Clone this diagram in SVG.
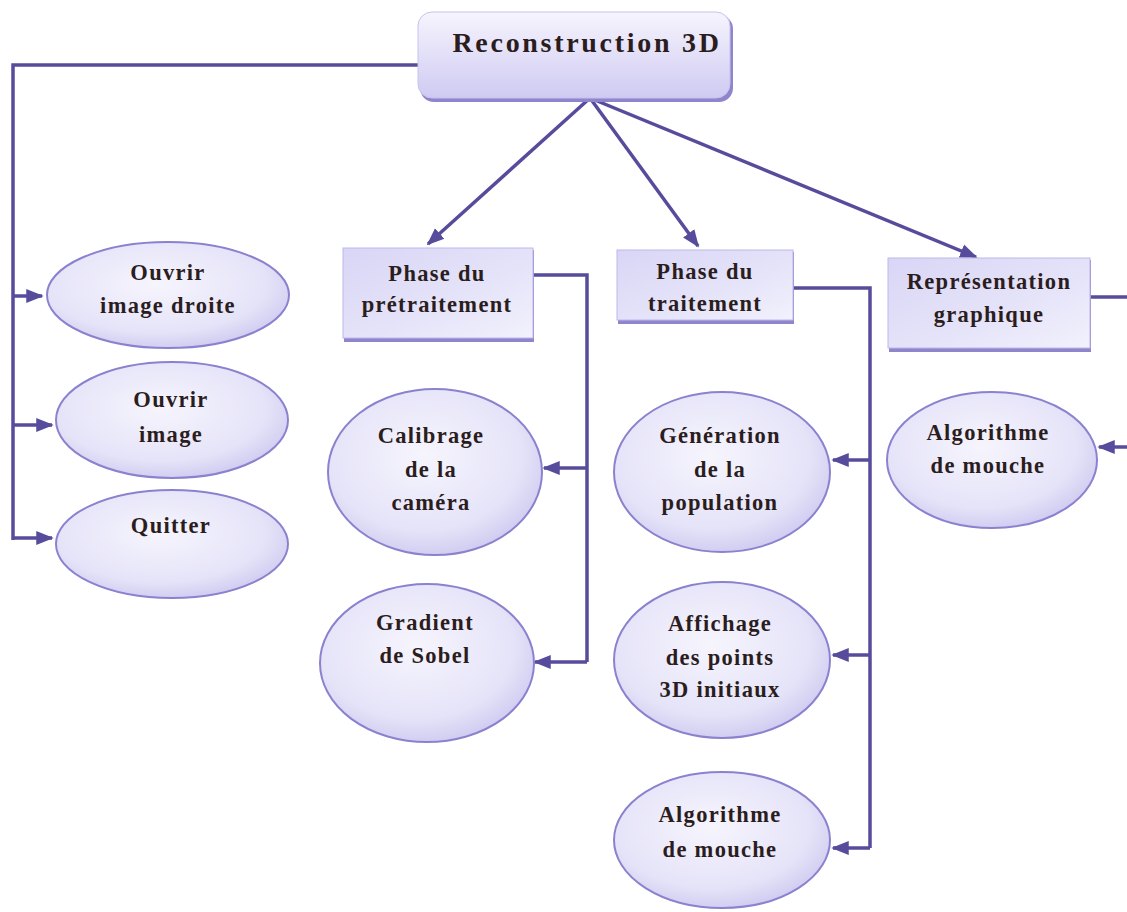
<svg xmlns="http://www.w3.org/2000/svg" width="1127" height="912" viewBox="0 0 1127 912">
<defs>
<linearGradient id="boxg" x1="0" y1="0" x2="0" y2="1">
<stop offset="0" stop-color="#f6f5fd"/>
<stop offset="1" stop-color="#cfcaf2"/>
</linearGradient>
<linearGradient id="rectg" x1="0" y1="0" x2="1" y2="1">
<stop offset="0" stop-color="#d9d5f6"/>
<stop offset="0.6" stop-color="#e6e4f9"/>
<stop offset="1" stop-color="#f2f1fc"/>
</linearGradient>
<radialGradient id="ellg" cx="0.45" cy="0.4" r="0.65">
<stop offset="0" stop-color="#f6f5fd"/>
<stop offset="0.7" stop-color="#e5e3f8"/>
<stop offset="1" stop-color="#cbc6ef"/>
</radialGradient>
<marker id="arr" viewBox="0 0 10 10" refX="9" refY="5" markerWidth="5" markerHeight="5" orient="auto-start-reverse" markerUnits="strokeWidth">
<path d="M0,1 L10,5 L0,9 z" fill="#574c9c"/>
</marker>
</defs>
<style>
.t{font-family:"Liberation Serif","Times New Roman",serif;font-weight:bold;font-size:22.5px;letter-spacing:1.3px;fill:#2b1d1d;text-anchor:middle}
.big{font-size:28px;letter-spacing:2.7px}
.ell{fill:url(#ellg);stroke:#8b82cf;stroke-width:2}
.rect{fill:url(#rectg);stroke:#bdb7ea;stroke-width:1}
.shadow{fill:#8e85cc}
.c{fill:none;stroke:#574c9c;stroke-width:3.5;stroke-linejoin:miter}
</style>
<rect width="1127" height="912" fill="#ffffff"/>

<g id="connectors">
<path class="c" d="M418,65 H13 V540"/>
<path class="c" d="M13,296 H42" marker-end="url(#arr)"/>
<path class="c" d="M13,425 H52" marker-end="url(#arr)"/>
<path class="c" d="M13,538 H52" marker-end="url(#arr)"/>
<path class="c" d="M590,98 L428,244" marker-end="url(#arr)"/>
<path class="c" d="M590,98 L698,246" marker-end="url(#arr)"/>
<path class="c" d="M590,98 L976,257" marker-end="url(#arr)"/>
<path class="c" d="M533,275 H587 V662"/>
<path class="c" d="M587,468 H544" marker-end="url(#arr)"/>
<path class="c" d="M587,662 H535" marker-end="url(#arr)"/>
<path class="c" d="M793,288 H870 V848"/>
<path class="c" d="M870,460 H833" marker-end="url(#arr)"/>
<path class="c" d="M870,655 H833" marker-end="url(#arr)"/>
<path class="c" d="M870,848 H833" marker-end="url(#arr)"/>
<path class="c" d="M1090,297 H1127"/>
<path class="c" d="M1127,447 H1099" marker-end="url(#arr)"/>
</g>

<g id="reconstruction">
<rect x="420" y="15" width="313" height="87" rx="14" class="shadow"/>
<rect x="418" y="12" width="312" height="86" rx="14" fill="url(#boxg)" stroke="#c7c2ee" stroke-width="1"/>
<text class="t big" x="587" y="52">Reconstruction 3D</text>
</g>

<g id="ouvrir-droite">
<ellipse class="ell" cx="168" cy="295" rx="121" ry="53"/>
<text class="t" x="168" y="280">Ouvrir</text>
<text class="t" x="168" y="313">image droite</text>
</g>
<g id="ouvrir-image">
<ellipse class="ell" cx="172" cy="420" rx="116" ry="58"/>
<text class="t" x="171" y="407">Ouvrir</text>
<text class="t" x="171" y="442">image</text>
</g>
<g id="quitter">
<ellipse class="ell" cx="172" cy="544" rx="116" ry="54"/>
<text class="t" x="171" y="533">Quitter</text>
</g>

<g id="pretraitement">
<rect x="344" y="250" width="190" height="92" class="shadow"/>
<rect x="343" y="248" width="190" height="90" class="rect"/>
<text class="t" x="437" y="281">Phase du</text>
<text class="t" x="437" y="312">prétraitement</text>
</g>
<g id="calibrage">
<ellipse class="ell" cx="435" cy="472" rx="107" ry="83"/>
<text class="t" x="431" y="443">Calibrage</text>
<text class="t" x="431" y="477">de la</text>
<text class="t" x="431" y="510">caméra</text>
</g>
<g id="sobel">
<ellipse class="ell" cx="427" cy="663" rx="107" ry="79"/>
<text class="t" x="425" y="630">Gradient</text>
<text class="t" x="425" y="663">de Sobel</text>
</g>

<g id="traitement">
<rect x="618" y="252" width="176" height="72" class="shadow"/>
<rect x="617" y="250" width="176" height="70" class="rect"/>
<text class="t" x="705" y="279">Phase du</text>
<text class="t" x="705" y="311">traitement</text>
</g>
<g id="generation">
<ellipse class="ell" cx="722" cy="472" rx="108" ry="80"/>
<text class="t" x="720" y="443">Génération</text>
<text class="t" x="720" y="477">de la</text>
<text class="t" x="720" y="510">population</text>
</g>
<g id="affichage">
<ellipse class="ell" cx="722" cy="660" rx="108" ry="78"/>
<text class="t" x="720" y="631">Affichage</text>
<text class="t" x="720" y="665">des points</text>
<text class="t" x="720" y="697">3D initiaux</text>
</g>
<g id="algo-traitement">
<ellipse class="ell" cx="722" cy="840" rx="108" ry="68"/>
<text class="t" x="720" y="822">Algorithme</text>
<text class="t" x="720" y="857">de mouche</text>
</g>

<g id="representation">
<rect x="889" y="260" width="202" height="92" class="shadow"/>
<rect x="888" y="258" width="202" height="90" class="rect"/>
<text class="t" x="989" y="289">Représentation</text>
<text class="t" x="989" y="322">graphique</text>
</g>
<g id="algo-representation">
<ellipse class="ell" cx="992" cy="460" rx="105" ry="68"/>
<text class="t" x="988" y="440">Algorithme</text>
<text class="t" x="988" y="473">de mouche</text>
</g>
</svg>
